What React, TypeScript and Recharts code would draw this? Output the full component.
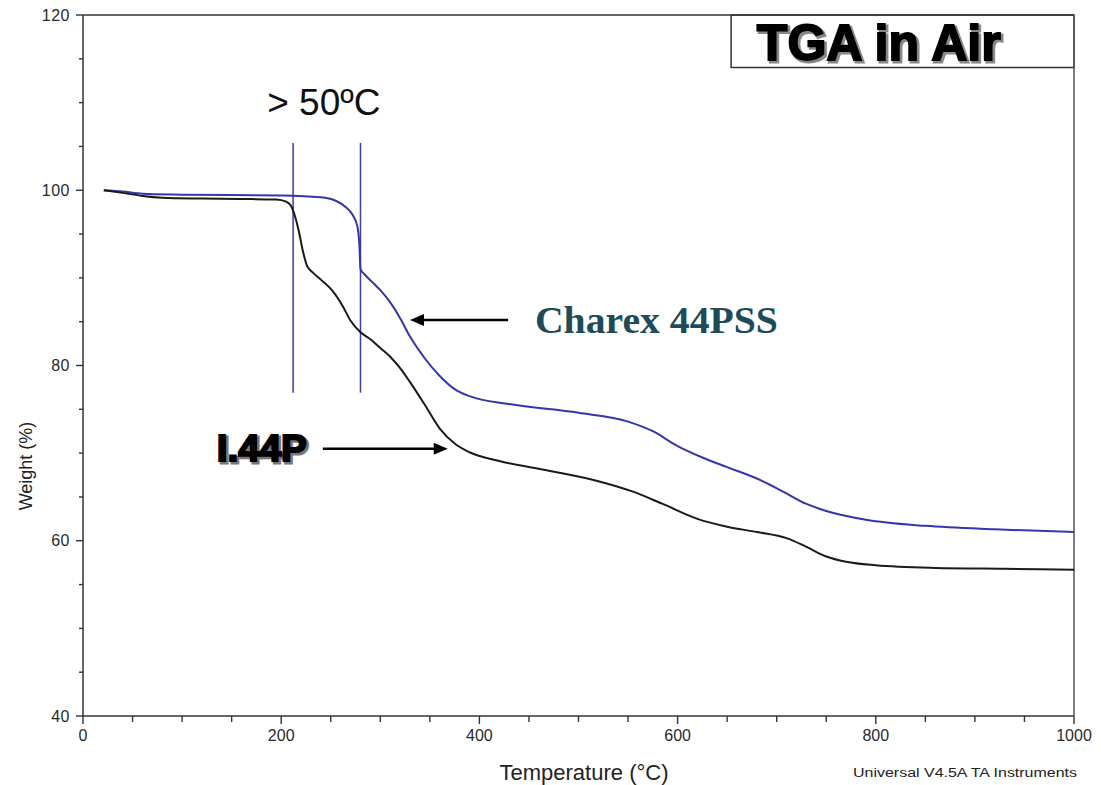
import React from 'react';
import {
  ComposedChart,
  Line,
  XAxis,
  YAxis,
  ReferenceLine,
  ReferenceArea,
  ReferenceDot,
  Label,
} from 'recharts';

// I.44P (black curve)
const i44pTemp = [21, 40, 60, 80, 120, 160, 195, 205, 210, 214, 218, 222, 226, 232, 240, 252, 262, 270, 280, 290, 300, 310, 320, 330, 345, 360, 375, 390, 420, 470, 520, 555, 585, 620, 650, 680, 710, 730, 750, 770, 800, 860, 930, 1000];
const i44pWeight = [100.0, 99.7, 99.35, 99.15, 99.05, 99.0, 98.95, 98.7, 98.2, 97.0, 95.2, 93.0, 91.4, 90.6, 89.8, 88.5, 86.8, 85.1, 83.8, 83.0, 82.0, 81.0, 79.7, 78.1, 75.5, 72.8, 71.1, 70.1, 69.1, 68.0, 66.8, 65.6, 64.2, 62.5, 61.6, 61.0, 60.3, 59.3, 58.2, 57.6, 57.2, 56.9, 56.8, 56.7];

// Charex 44PSS (blue curve)
const charexTemp = [21, 40, 60, 100, 200, 240, 255, 265, 272, 277, 279, 280, 285, 293, 300, 310, 320, 330, 345, 360, 375, 390, 430, 500, 550, 575, 600, 625, 650, 680, 705, 730, 750, 790, 850, 920, 1000];
const charexWeight = [100.0, 99.85, 99.6, 99.5, 99.4, 99.2, 98.8, 98.1, 97.2, 95.8, 93.5, 91.0, 90.3, 89.4, 88.6, 87.2, 85.4, 83.3, 80.8, 78.8, 77.3, 76.5, 75.6, 74.6, 73.6, 72.5, 70.8, 69.5, 68.4, 67.1, 65.7, 64.2, 63.4, 62.4, 61.7, 61.3, 61.0];

// Axis ticks
const xTicks = [0, 50, 100, 150, 200, 250, 300, 350, 400, 450, 500, 550, 600, 650, 700, 750, 800, 850, 900, 950, 1000];
const xLabelTicks = [0, 200, 400, 600, 800, 1000];
const yTicks = [40, 45, 50, 55, 60, 65, 70, 75, 80, 85, 90, 95, 100, 105, 110, 115, 120];
const yLabelTicks = [40, 60, 80, 100, 120];

// Onset markers (temperatures of the two vertical lines)
const onsetTemps = [212, 280];

const i44pData = i44pTemp.map((t, i) => ({ t, w: i44pWeight[i] }));
const charexData = charexTemp.map((t, i) => ({ t, w: charexWeight[i] }));

const FONT = 'Liberation Sans, Arial, Helvetica, sans-serif';
const AXIS = '#333';

const XTick = (props: any) => {
  const { x, y, payload } = props;
  const v = payload.value;
  const major = xLabelTicks.includes(v);
  return (
    <g>
      <line x1={x} x2={x} y1={y} y2={y + (major ? 8 : 6)} stroke={AXIS} strokeWidth={1.4} />
      {major && (
        <text x={x} y={y + 25} textAnchor="middle" fontSize={16} fill="#2a2a2a" fontFamily={FONT}>
          {v}
        </text>
      )}
    </g>
  );
};

const YTick = (props: any) => {
  const { x, y, payload } = props;
  const v = payload.value;
  const major = yLabelTicks.includes(v);
  return (
    <g>
      <line x1={x} x2={x - (major ? 7 : 4)} y1={y} y2={y} stroke={AXIS} strokeWidth={1.4} />
      {major && (
        <text x={x - 13} y={y + 5.5} textAnchor="end" fontSize={16} fill="#2a2a2a" fontFamily={FONT} letterSpacing={0.5}>
          {v}
        </text>
      )}
    </g>
  );
};

const ArrowHead = (dir: 'left' | 'right') => (props: any) => {
  const { cx, cy } = props;
  const s = dir === 'left' ? 1 : -1;
  return (
    <polygon
      points={`${cx},${cy} ${cx + s * 14},${cy - 6} ${cx + s * 14},${cy + 6}`}
      fill="#000"
    />
  );
};

const TextShape = (content: React.ReactNode) => (props: any) => {
  const { cx, cy } = props;
  return <g transform={`translate(${cx},${cy})`}>{content}</g>;
};

export default function App() {
  return (
    <div style={{ position: 'absolute', left: 0, top: 0, background: '#fff' }}>
      <ComposedChart
        width={1101}
        height={785}
        margin={{ top: 15, right: 27, bottom: 39, left: 23 }}
      >
        <XAxis
          dataKey="t"
          type="number"
          domain={[0, 1000]}
          ticks={xTicks}
          interval={0}
          tickSize={0}
          tickMargin={0}
          tickLine={false}
          tick={(p: any) => <XTick {...p} />}
          stroke={AXIS}
          strokeWidth={1.5}
          height={30}
          allowDuplicatedCategory={false}
        >
          <Label
            content={() => (
              <g>
                <text x={584} y={780} textAnchor="middle" fontSize={22} fill="#222" fontFamily={FONT}>
                  Temperature (°C)
                </text>
                <text x={1077} y={777} textAnchor="end" fontSize={12.5} fill="#222" fontFamily={FONT} textLength={224} lengthAdjust="spacingAndGlyphs">
                  Universal V4.5A TA Instruments
                </text>
              </g>
            )}
          />
        </XAxis>
        <YAxis
          dataKey="w"
          type="number"
          domain={[40, 120]}
          ticks={yTicks}
          interval={0}
          tickSize={0}
          tickMargin={0}
          tickLine={false}
          tick={(p: any) => <YTick {...p} />}
          stroke={AXIS}
          strokeWidth={1.5}
          width={60}
        >
          <Label
            content={() => (
              <text
                x={0}
                y={0}
                transform="translate(32,466) rotate(-90)"
                textAnchor="middle"
                fontSize={18}
                fill="#222"
                fontFamily={FONT}
              >
                Weight (%)
              </text>
            )}
          />
        </YAxis>

        {/* plot frame (top & right) */}
        <ReferenceLine y={120} stroke={AXIS} strokeWidth={1.5} />
        <ReferenceLine x={1000} stroke="#555" strokeWidth={1.5} />

        {/* title box */}
        <ReferenceArea x1={654} x2={1000} y1={114} y2={120} fill="#fff" fillOpacity={1} stroke="#333" strokeWidth={1.5} />
        <ReferenceDot
          x={803}
          y={117}
          r={0}
          shape={TextShape(
            <g fontFamily={FONT} fontWeight={900} fontSize={50} textAnchor="middle">
              <text x={2} y={21} fill="#888" stroke="#888" strokeWidth={3} textLength={244} lengthAdjust="spacingAndGlyphs">TGA in Air</text>
              <text x={0} y={19} fill="#000" stroke="#000" strokeWidth={1.8} textLength={244} lengthAdjust="spacingAndGlyphs">TGA in Air</text>
            </g>
          )}
        />

        {/* onset vertical lines */}
        {onsetTemps.map((t) => (
          <ReferenceLine
            key={t}
            segment={[
              { x: t, y: 105.4 },
              { x: t, y: 76.9 },
            ]}
            stroke="#3a3aa8"
            strokeWidth={1.5}
          />
        ))}

        {/* "> 50ºC" annotation */}
        <ReferenceDot
          x={243}
          y={108.6}
          r={0}
          shape={TextShape(
            <text x={0} y={0} textAnchor="middle" fontSize={37} fill="#111" fontFamily={FONT}>
              {'> 50ºC'}
            </text>
          )}
        />

        {/* Charex 44PSS label & arrow */}
        <ReferenceLine
          segment={[
            { x: 429, y: 85.2 },
            { x: 340, y: 85.2 },
          ]}
          stroke="#000"
          strokeWidth={2.5}
        />
        <ReferenceDot x={330} y={85.2} r={0} shape={ArrowHead('left')} />
        <ReferenceDot
          x={456}
          y={83.7}
          r={0}
          shape={TextShape(
            <text x={0} y={0} textAnchor="start" fontSize={37} fontWeight={700} fill="#1d4b57" fontFamily="Liberation Serif, Times New Roman, serif" textLength={243} lengthAdjust="spacingAndGlyphs">
              Charex 44PSS
            </text>
          )}
        />

        {/* I.44P label & arrow */}
        <ReferenceLine
          segment={[
            { x: 242, y: 70.5 },
            { x: 358, y: 70.5 },
          ]}
          stroke="#000"
          strokeWidth={2.5}
        />
        <ReferenceDot x={368} y={70.5} r={0} shape={ArrowHead('right')} />
        <ReferenceDot
          x={135}
          y={69.1}
          r={0}
          shape={TextShape(
            <g fontFamily={FONT} fontWeight={900} fontSize={36} textAnchor="start">
              <text x={2} y={2} fill="#777" stroke="#777" strokeWidth={3} textLength={90} lengthAdjust="spacingAndGlyphs">I.44P</text>
              <text x={0} y={0} fill="#000" stroke="#000" strokeWidth={2} textLength={90} lengthAdjust="spacingAndGlyphs">I.44P</text>
            </g>
          )}
        />

        <Line
          data={charexData}
          dataKey="w"
          type="monotone"
          stroke="#3535b0"
          strokeWidth={2}
          dot={false}
          isAnimationActive={false}
        />
        <Line
          data={i44pData}
          dataKey="w"
          type="monotone"
          stroke="#1a1a1a"
          strokeWidth={2}
          dot={false}
          isAnimationActive={false}
        />
      </ComposedChart>
    </div>
  );
}
